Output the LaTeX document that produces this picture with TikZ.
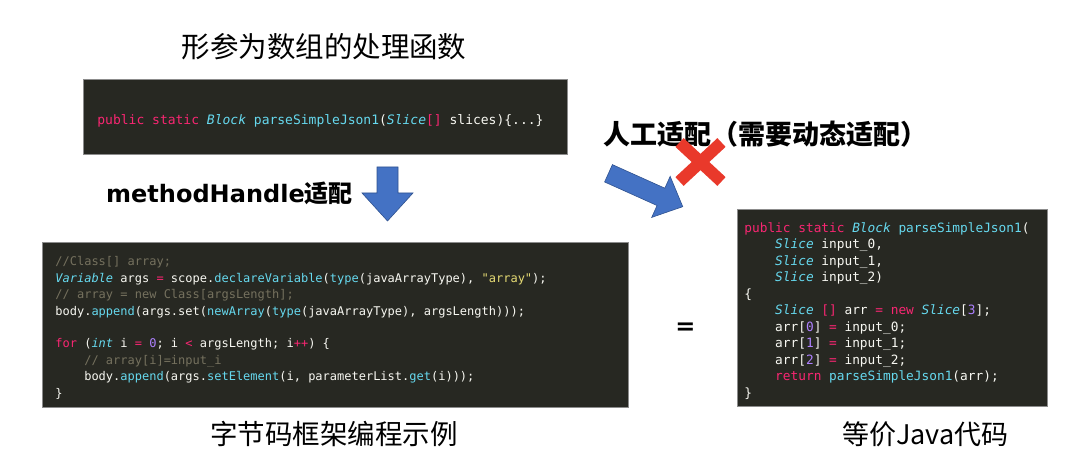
\documentclass[tikz,border=0pt]{standalone}
\usepackage{fontspec}
\setmonofont{DejaVu Sans Mono}
\newfontfamily\cjk{Noto Sans CJK SC}
\newfontfamily\latinbold{DejaVu Sans}
\usetikzlibrary{positioning, shapes.misc}

% Monokai colours of the code shots
\definecolor{mkbg}{HTML}{272822}
\definecolor{mkpink}{HTML}{F92672}
\definecolor{mkcyan}{HTML}{66D9EF}
\definecolor{mkwhite}{HTML}{F8F8F2}
\definecolor{mkgray}{HTML}{75715E}
\definecolor{mkyellow}{HTML}{E6DB74}
\definecolor{mkpurple}{HTML}{AE81FF}
\definecolor{boxgray}{HTML}{8C8C8C}
\definecolor{arrowblue}{HTML}{4472C4}
\definecolor{arrowedge}{HTML}{2F528F}
\definecolor{crossred}{HTML}{E9392B}

\newcommand{\codekw}[1]{\textcolor{mkpink}{#1}}
\newcommand{\codety}[1]{\textcolor{mkcyan}{\itshape #1}}
\newcommand{\codefn}[1]{\textcolor{mkcyan}{#1}}
\newcommand{\codecm}[1]{\textcolor{mkgray}{#1}}
\newcommand{\codestr}[1]{\textcolor{mkyellow}{#1}}
\newcommand{\codenum}[1]{\textcolor{mkpurple}{#1}}
% one blank cell and one indent of the code font
\newcommand{\codesp}{\phantom{x}}
\newcommand{\codeind}{\phantom{xxxx}}
\newcommand{\codefont}[2]{\ttfamily\fontsize{#1}{#2}\selectfont}

\tikzset{
  codebox/.style={rectangle, draw=boxgray, fill=mkbg, line width=0.8pt, anchor=north west, align=left, inner ysep=0pt, text=mkwhite},
  caption/.style={inner sep=0pt, font=\cjk\fontsize{27.5}{30}\selectfont},
  headline/.style={inner sep=0pt, anchor=west, font=\bfseries},
  bluearrow/.style={fill=arrowblue, draw=arrowedge, line width=0.6pt, line join=miter}
}

\begin{document}
\begin{tikzpicture}[x=1pt, y=-1pt]
  \useasboundingbox (0,0) rectangle (1080,465);

  % Titel oben
  \node (title) [caption, font=\cjk\fontsize{28.5}{30}\selectfont] at (324,47) {形参为数组的处理函数};

  % Signatur mit Array-Parameter
  \node (sigbox) [codebox, minimum width=484pt, minimum height=75pt, text width=456pt, inner xsep=14pt,
    font=\codefont{13}{16}] at (83,79)
    {\rule{0pt}{18pt}\codekw{public\codesp static}\codesp \codety{Block}\codesp \codefn{parseSimpleJson1}(\codety{Slice}\codekw{[]}\codesp slices)\{...\}};

  % Beschriftungen der beiden Wege
  \node (mhlabel) [headline] at (106,193)
    {\latinbold\fontsize{24}{26}\selectfont methodHandle{\cjk 适配}};
  \node (manual) [headline] at (603,134)
    {\cjk\fontsize{27}{30}\selectfont 人工适配（需要动态适配）};

  % Bytecode-Beispiel
  \node (bytebox) [codebox, minimum width=586pt, minimum height=165pt, text width=560pt, inner xsep=13pt,
    font=\codefont{12}{16.4}] at (42,242)
    {\rule{0pt}{15pt}\codecm{//Class[]\codesp array;}\\
     \codety{Variable}\codesp args\codesp \codekw{=}\codesp scope.\codefn{declareVariable}(\codefn{type}(javaArrayType),\codesp \codestr{"array"});\\
     \codecm{//\codesp array\codesp =\codesp new\codesp Class[argsLength];}\\
     body.\codefn{append}(args.set(\codefn{newArray}(\codefn{type}(javaArrayType),\codesp argsLength)));\\
     \mbox{}\\
     \codekw{for}\codesp (\codety{int}\codesp i\codesp \codekw{=}\codesp \codenum{0};\codesp i\codesp \codekw{<}\codesp argsLength;\codesp i\codekw{++})\codesp \{\\
     \codeind\codecm{//\codesp array[i]=input\_i}\\
     \codeind body.\codefn{append}(args.\codefn{setElement}(i,\codesp parameterList.\codefn{get}(i)));\\
     \}};

  % gleichwertiger Java-Code
  \node (javabox) [codebox, minimum width=310pt, minimum height=197pt, text width=296pt, inner xsep=7pt,
    font=\codefont{12.8}{16.5}] at (737,209)
    {\rule{0pt}{16pt}\codekw{public\codesp static}\codesp \codety{Block}\codesp \codefn{parseSimpleJson1}(\\
     \codeind\codety{Slice}\codesp input\_0,\\
     \codeind\codety{Slice}\codesp input\_1,\\
     \codeind\codety{Slice}\codesp input\_2)\\
     \{\\
     \codeind\codety{Slice}\codesp \codekw{[]}\codesp arr\codesp \codekw{=}\codesp \codekw{new}\codesp \codety{Slice}[\codenum{3}];\\
     \codeind arr[\codenum{0}]\codesp \codekw{=}\codesp input\_0;\\
     \codeind arr[\codenum{1}]\codesp \codekw{=}\codesp input\_1;\\
     \codeind arr[\codenum{2}]\codesp \codekw{=}\codesp input\_2;\\
     \codeind\codekw{return}\codesp \codefn{parseSimpleJson1}(arr);\\
     \}};

  % Unterschriften
  \node (bytecap) [caption] at (334,434) {字节码框架编程示例};
  \node (javacap) [caption, anchor=west, font=\cjk\fontsize{27}{30}\selectfont] at (842,434) {等价Java代码};

  % Gleichheitszeichen zwischen den Codes
  \node (equal) [inner sep=0pt, font=\latinbold\bfseries\fontsize{24}{26}\selectfont] at (685.5,328.5) {=};

  % Blockpfeile
  \draw [bluearrow, shift={(387.5,167)}, rotate=-90]
    (0,-10.5) -- (26,-10.5) -- (26,-25.5) -- (54,0) -- (26,25.5) -- (26,10.5) -- (0,10.5) -- cycle;
  \draw [bluearrow, shift={(608.5,173.3)}, rotate=-24.2]
    (0,-9.5) -- (57.5,-9.5) -- (57.5,-22.5) -- (81.4,0) -- (57.5,22.5) -- (57.5,9.5) -- (0,9.5) -- cycle;

  % rotes Kreuz: manuelle Anpassung verworfen
  \node (reject) [cross out, draw=crossred, line width=12pt, minimum width=30pt, minimum height=27pt, inner sep=0pt] at (700.5,162) {};

\end{tikzpicture}
\end{document}
